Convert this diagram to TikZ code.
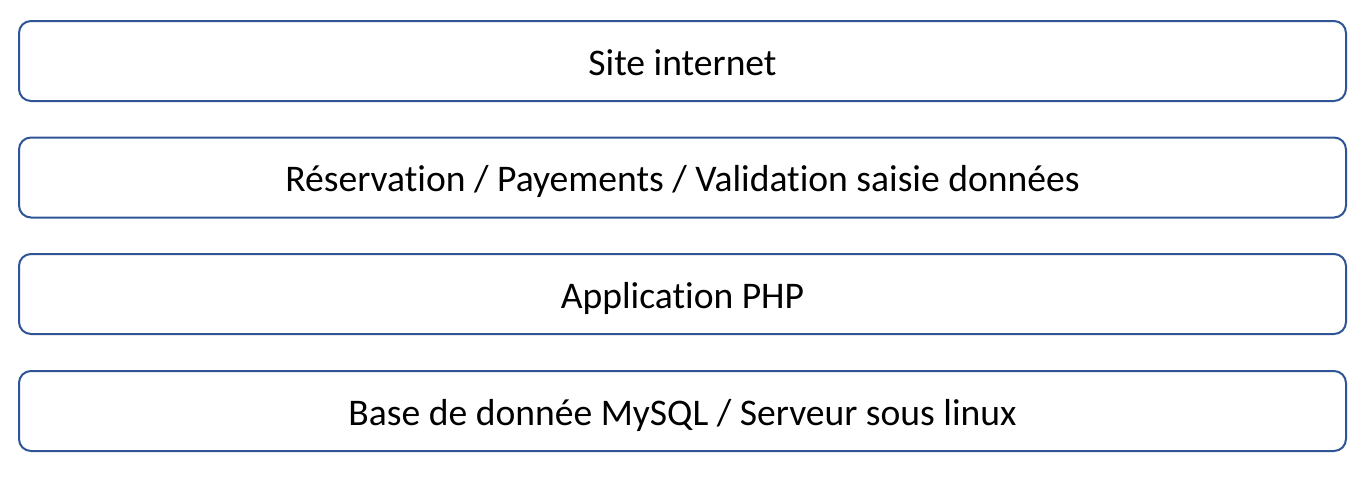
\documentclass[tikz,border=0pt]{standalone}
\usepackage{fontspec}
\setmainfont{Carlito}[Ligatures=CommonOff]
\usepackage{tikz}
\definecolor{layerblue}{HTML}{2F5597}
\tikzset{layer/.style={draw=layerblue, line width=1.5pt, rounded corners=9pt, fill=white, minimum width=995.25pt, minimum height=60pt, text height=21pt, text depth=0pt, font=\fontsize{28.2}{32}\selectfont}}

\begin{document}
\begin{tikzpicture}[x=0.75pt, y=-0.75pt]
		%%%%% START %%%%%
		
		\useasboundingbox (0, 0) rectangle (1372, 482);
		
		\node[layer] (site) at (682.5, 61) {Site internet};
		\node[layer] (reservation) at (682.5, 177.5) {Réservation / Payements / Validation saisie données};
		\node[layer] (appli) at (682.5, 294) {Application PHP};
		\node[layer] (base) at (682.5, 411) {Base de donnée MySQL / Serveur sous linux};
		
		%%%%% END %%%%%
	\end{tikzpicture}
\end{document}
